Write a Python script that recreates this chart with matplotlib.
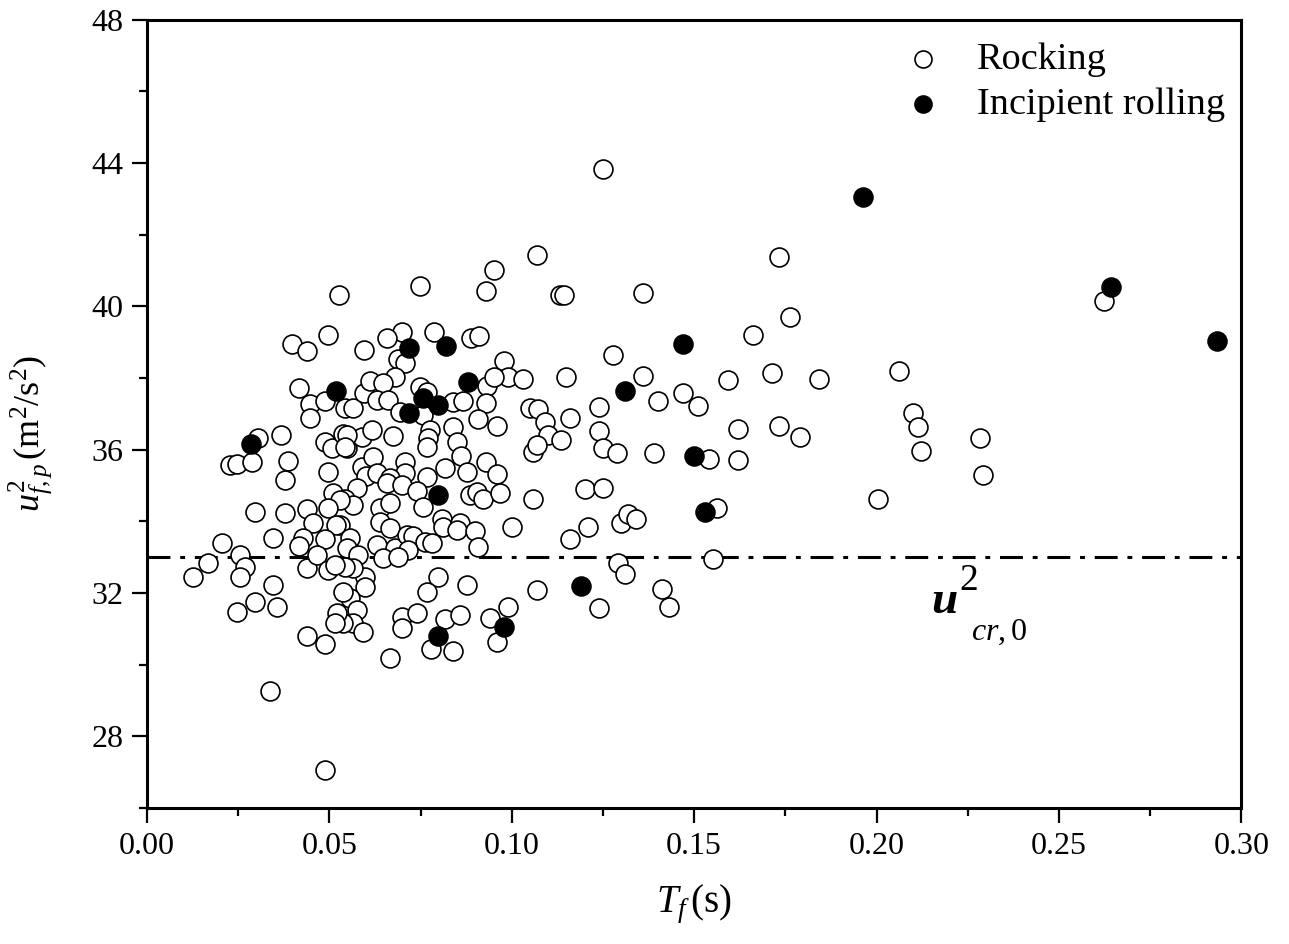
import numpy as np
import matplotlib
matplotlib.use('Agg')
import matplotlib.pyplot as plt
from matplotlib.ticker import MultipleLocator

plt.rcParams['font.family'] = ['Liberation Serif', 'DejaVu Serif']
plt.rcParams['mathtext.fontset'] = 'custom'
plt.rcParams['mathtext.rm'] = 'Liberation Serif'
plt.rcParams['mathtext.it'] = 'Liberation Serif:italic'
plt.rcParams['mathtext.bf'] = 'Liberation Serif:bold'

# rocking cases (open circles)
rock_t = [0.0527, 0.0496, 0.0398, 0.0439, 0.0595, 0.0417, 0.0447, 0.0488, 0.0447, 0.0543,
          0.0565, 0.0595, 0.0612, 0.0367, 0.0304, 0.0228, 0.0247, 0.0288, 0.0387, 0.0488,
          0.0507, 0.0537, 0.0548, 0.0590, 0.0496, 0.0590, 0.0601, 0.0378, 0.0749, 0.0930,
          0.1133, 0.1143, 0.0699, 0.0658, 0.0787, 0.0888, 0.0910, 0.0688, 0.0707, 0.0680,
          0.0647, 0.0979, 0.0990, 0.1031, 0.0932, 0.0952, 0.0749, 0.0768, 0.0839, 0.0867,
          0.0930, 0.0631, 0.0661, 0.0694, 0.0757, 0.0908, 0.0960, 0.1050, 0.1072, 0.1091,
          0.1100, 0.1058, 0.1069, 0.1135, 0.0839, 0.0850, 0.0776, 0.0771, 0.0768, 0.0861,
          0.0675, 0.0617, 0.0548, 0.0543, 0.0620, 0.0631, 0.0707, 0.0707, 0.0768, 0.0817,
          0.0877, 0.0930, 0.0960, 0.0666, 0.0952, 0.1069, 0.1250,
          0.0576, 0.0658, 0.0699, 0.0740, 0.0886, 0.0905, 0.0921, 0.0968, 0.1058, 0.0543,
          0.0565, 0.0639, 0.0666, 0.0757, 0.0809, 0.0812, 0.0858, 0.0850, 0.0899, 0.1001,
          0.0639, 0.0666, 0.0529, 0.0557, 0.0631, 0.0680, 0.0713, 0.0729, 0.0762, 0.0782,
          0.0716, 0.0548, 0.0579, 0.0647, 0.0688, 0.0908, 0.0798, 0.0768, 0.0877, 0.1069,
          0.0598, 0.0598, 0.0565, 0.0543, 0.0557, 0.0537, 0.0576, 0.0565, 0.0592, 0.0537,
          0.0699, 0.0699, 0.0740, 0.0817, 0.0858, 0.0779, 0.0839, 0.0941, 0.0990, 0.0960,
          0.0666,
          0.0510, 0.0529, 0.0296, 0.0378, 0.0439, 0.0496, 0.0455, 0.0518, 0.0346, 0.0206,
          0.0428, 0.0488, 0.0417, 0.0255, 0.0269, 0.0167, 0.0126, 0.0255, 0.0439, 0.0466,
          0.0496, 0.0516, 0.0346, 0.0296, 0.0356, 0.0247, 0.0521, 0.0516, 0.0439, 0.0488,
          0.0337, 0.0488,
          0.1278, 0.1149, 0.1360, 0.1401, 0.1470, 0.1511, 0.1239, 0.1160, 0.1239, 0.1621,
          0.1733, 0.1791, 0.1250, 0.1289, 0.1390, 0.1541, 0.1621, 0.1201, 0.1250, 0.1209,
          0.1160, 0.1300, 0.1319, 0.1341, 0.1563, 0.2005, 0.1552, 0.1292, 0.1311, 0.1239,
          0.1412, 0.1431, 0.1662, 0.1763, 0.1733, 0.1593, 0.1714, 0.1843, 0.2062, 0.1360,
          0.2101, 0.2114, 0.2122, 0.2284, 0.2292, 0.2624]
rock_u = [40.32, 39.20, 38.95, 38.75, 38.78, 37.72, 37.27, 37.36, 36.88, 37.16,
          37.16, 37.58, 37.92, 36.41, 36.32, 35.57, 35.60, 35.65, 35.68, 36.21,
          36.04, 36.44, 36.04, 36.35, 35.37, 35.51, 35.26, 35.15, 40.57, 40.43,
          40.32, 40.32, 39.28, 39.12, 39.28, 39.12, 39.17, 38.53, 38.42, 38.03,
          37.86, 38.47, 38.03, 37.97, 37.78, 38.03, 37.75, 37.61, 37.33, 37.36,
          37.30, 37.39, 37.39, 37.05, 36.97, 36.85, 36.66, 37.16, 37.13, 36.77,
          36.41, 35.93, 36.13, 36.27, 36.63, 36.21, 36.55, 36.32, 36.07, 35.82,
          36.38, 36.55, 36.41, 36.07, 35.79, 35.35, 35.65, 35.35, 35.23, 35.49,
          35.37, 35.65, 35.32, 35.21, 41.02, 41.44, 43.84,
          34.93, 35.07, 35.01, 34.84, 34.73, 34.82, 34.62, 34.79, 34.62, 34.62,
          34.45, 34.37, 34.51, 34.40, 34.06, 33.84, 33.95, 33.75, 33.73, 33.84,
          33.98, 33.81, 33.89, 33.53, 33.34, 33.25, 33.61, 33.59, 33.42, 33.39,
          33.20, 33.25, 33.06, 32.97, 33.00, 33.28, 32.44, 32.02, 32.22, 32.08,
          32.44, 32.16, 32.69, 32.72, 31.85, 32.02, 31.52, 31.16, 30.91, 31.16,
          31.32, 31.02, 31.44, 31.27, 31.38, 30.43, 30.37, 31.30, 31.60, 30.63,
          30.18,
          34.79, 34.59, 34.26, 34.23, 34.34, 34.37, 33.95, 33.89, 33.53, 33.39,
          33.53, 33.50, 33.31, 33.06, 32.72, 32.83, 32.44, 32.44, 32.69, 33.06,
          32.64, 32.78, 32.22, 31.74, 31.60, 31.46, 31.44, 31.16, 30.79, 30.57,
          29.26, 27.05,
          38.64, 38.03, 38.06, 37.36, 37.58, 37.22, 37.19, 36.88, 36.52, 36.58,
          36.66, 36.35, 36.04, 35.91, 35.91, 35.74, 35.71, 34.90, 34.93, 33.84,
          33.50, 33.95, 34.20, 34.06, 34.37, 34.62, 32.94, 32.83, 32.53, 31.58,
          32.11, 31.60, 39.20, 39.70, 41.38, 37.94, 38.14, 37.97, 38.20, 40.37,
          37.02, 36.63, 35.96, 36.32, 35.29, 40.15]

# incipient rolling cases (filled circles)
roll_t = [0.0285, 0.0518, 0.0718, 0.0820, 0.0880, 0.0757, 0.0798, 0.0718, 0.0798, 0.0798,
          0.0979, 0.1190, 0.1310, 0.1470, 0.1500, 0.1530, 0.1963, 0.2643, 0.2934]
roll_u = [36.16, 37.64, 38.84, 38.90, 37.89, 37.44, 37.25, 37.02, 34.73, 30.79,
          31.04, 32.19, 37.64, 38.95, 35.82, 34.26, 43.06, 40.54, 39.03]

u_cr0 = 33.0

fig = plt.figure(figsize=(12.89, 9.44), dpi=100)
ax = fig.add_axes([0.114, 0.144, 0.849, 0.835])

ax.plot([0, 0.30], [u_cr0, u_cr0], color='black', lw=2.2,
        linestyle=(0, (7.5, 3.2, 1.6, 3.2)), zorder=1)
ax.scatter(rock_t, rock_u, s=185, facecolors='white', edgecolors='black',
           linewidths=1.2, zorder=2, label='Rocking')
ax.scatter(roll_t, roll_u, s=185, facecolors='black', edgecolors='black',
           linewidths=1.2, zorder=3, label='Incipient rolling')

# label of the critical line, built from pieces like the original
ax.text(0.2150, 31.44, 'u', fontsize=34, fontstyle='italic', fontweight='bold',
        va='baseline')
ax.text(0.2226, 32.10, '2', fontsize=27, va='baseline')
ax.text(0.2260, 30.70, r'$cr,$0', fontsize=23, va='baseline')

ax.set_xlim(0, 0.30)
ax.set_ylim(26, 48)
ax.xaxis.set_major_locator(MultipleLocator(0.05))
ax.xaxis.set_minor_locator(MultipleLocator(0.025))
ax.yaxis.set_major_locator(MultipleLocator(4))
ax.yaxis.set_minor_locator(MultipleLocator(2))
ax.set_xticks(np.arange(0, 0.301, 0.05))
ax.set_xticklabels(['%.2f' % v for v in np.arange(0, 0.301, 0.05)])

ax.tick_params(which='both', direction='out', top=False, right=False, width=1.6)
ax.tick_params(which='major', length=11, labelsize=23, pad=6)
ax.tick_params(which='minor', length=6)
for sp in ax.spines.values():
    sp.set_linewidth(2.2)

ax.set_xlabel(r'$T_{f}\,(\mathrm{s})$', fontsize=28, labelpad=16)
ax.set_ylabel(r'$u^{2}_{f,p}\,(\mathrm{m}^{2}/\mathrm{s}^{2})$', fontsize=26)
ax.yaxis.set_label_coords(-0.084, 0.475)

ax.legend(loc='upper right', bbox_to_anchor=(1.006, 1.0), frameon=False,
          fontsize=27.5, markerscale=0.9, handlelength=1.0, handletextpad=0.9,
          labelspacing=0.25, borderaxespad=0.2)

fig.savefig('out.png', dpi=100)
